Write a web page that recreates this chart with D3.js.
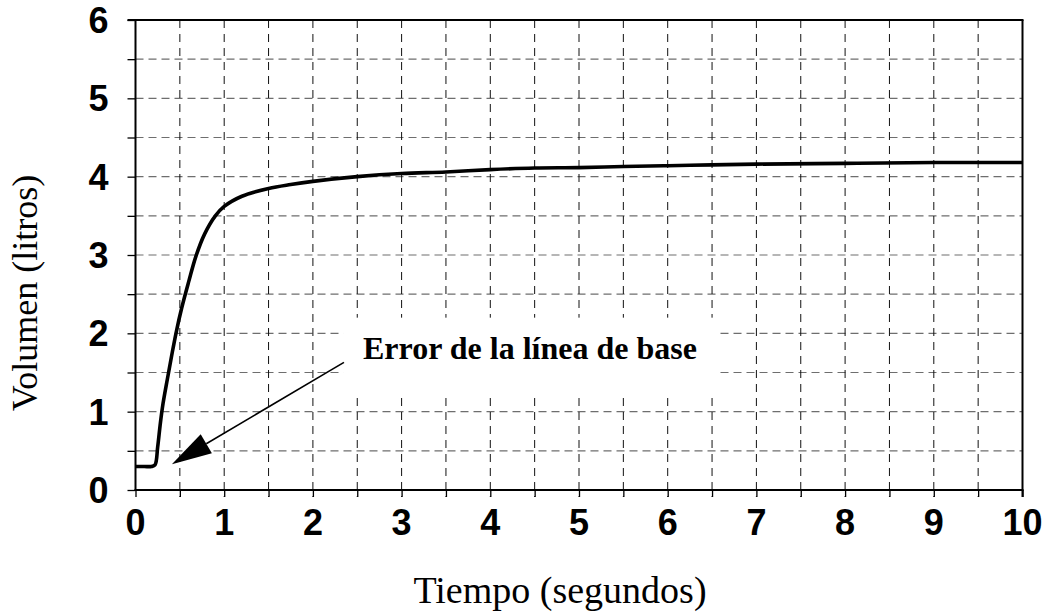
<!DOCTYPE html>
<html>
<head>
<meta charset="utf-8">
<script src="https://cdn.jsdelivr.net/npm/d3@7"></script>
<style>
  html, body { margin: 0; padding: 0; background: #fff; }
  svg { display: block; }
</style>
</head>
<body>
<svg id="chart" width="1044" height="614"></svg>
<script>
// ---- data ----
const timeValues = [0, 0.1, 0.18, 0.22, 0.25, 0.28, 0.31, 0.36, 0.41, 0.46, 0.52, 0.6, 0.68, 0.78, 0.9, 1.0, 1.2, 1.5, 1.75, 2.0, 2.5, 3.0, 3.5, 4.0, 4.5, 5.0, 5.5, 6.0, 6.5, 7.0, 8.0, 9.0, 10.0];
const volumeValues = [0.30, 0.30, 0.30, 0.32, 0.55, 0.85, 1.1, 1.42, 1.73, 2.02, 2.32, 2.66, 2.98, 3.27, 3.5, 3.62, 3.75, 3.85, 3.9, 3.94, 4.0, 4.04, 4.06, 4.09, 4.11, 4.115, 4.13, 4.14, 4.15, 4.16, 4.17, 4.18, 4.18];
const xTickLabels = ["0", "1", "2", "3", "4", "5", "6", "7", "8", "9", "10"];
const yTickLabels = ["0", "1", "2", "3", "4", "5", "6"];
const xTitle = "Tiempo (segundos)";
const yTitle = "Volumen (litros)";
const annotationText = "Error de la línea de base";
const arrowFrom = [2.35, 1.63];
const arrowTo = [0.41, 0.33];
const annotationBox = [2.34, 6.57, 1.19, 2.2]; // x0, x1, y0, y1 in data units
const annotationAnchor = [2.565, 1.67];

// ---- layout ----
const svg = d3.select("#chart");
const pLeft = 135.5, pRight = 1022.5, pTop = 20, pBottom = 490;
const x = d3.scaleLinear().domain([0, 10]).range([pLeft, pRight]);
const y = d3.scaleLinear().domain([0, 6]).range([pBottom, pTop]);
const minorX = d3.range(0, 10.001, 0.5);
const minorY = d3.range(0, 6.001, 0.5);

// gridlines
const grid = svg.append("g");
grid.selectAll("line.h").data(minorY.filter(v => v > 0 && v < 6)).enter().append("line")
  .attr("x1", pLeft).attr("x2", pRight)
  .attr("y1", d => y(d)).attr("y2", d => y(d))
  .attr("stroke", "#6e6e6e").attr("stroke-width", 1.2)
  .attr("stroke-dasharray", "8,5");
grid.selectAll("line.v").data(minorX.filter(v => v > 0 && v < 10)).enter().append("line")
  .attr("x1", d => x(d)).attr("x2", d => x(d))
  .attr("y1", pTop).attr("y2", pBottom + 7)
  .attr("stroke", "#111").attr("stroke-width", 1)
  .attr("stroke-dasharray", "8,6");

// annotation white box (covers gridlines)
svg.append("rect")
  .attr("x", x(annotationBox[0])).attr("y", y(annotationBox[3]))
  .attr("width", x(annotationBox[1]) - x(annotationBox[0]))
  .attr("height", y(annotationBox[2]) - y(annotationBox[3]))
  .attr("fill", "#fff");

// axes
const yAxis = d3.axisLeft(y).tickValues(minorY).tickSize(8).tickFormat("");
const xAxis = d3.axisBottom(x).tickValues(minorX).tickSize(7).tickFormat("");
const ga = svg.append("g").attr("transform", `translate(${pLeft},0)`).call(yAxis);
const gb = svg.append("g").attr("transform", `translate(0,${pBottom})`).call(xAxis);
[ga, gb].forEach(g => {
  g.select(".domain").remove();
  g.selectAll(".tick line").attr("stroke", "#000").attr("stroke-width", 1.3);
});
// frame
svg.append("line").attr("x1", pLeft).attr("x2", pLeft).attr("y1", pTop).attr("y2", pBottom + 1)
  .attr("stroke", "#000").attr("stroke-width", 2);
svg.append("line").attr("x1", pLeft - 1).attr("x2", pRight + 1).attr("y1", pBottom).attr("y2", pBottom)
  .attr("stroke", "#000").attr("stroke-width", 2);
svg.append("line").attr("x1", pLeft - 8).attr("x2", pRight + 1).attr("y1", pTop).attr("y2", pTop)
  .attr("stroke", "#000").attr("stroke-width", 2);
svg.append("line").attr("x1", pRight).attr("x2", pRight).attr("y1", pTop).attr("y2", pBottom + 7)
  .attr("stroke", "#000").attr("stroke-width", 2);

// tick labels
svg.append("g").selectAll("text").data(yTickLabels).enter().append("text")
  .attr("x", pLeft - 27).attr("y", d => y(+d))
  .attr("dy", "0.36em")
  .attr("text-anchor", "end")
  .attr("font-family", "Liberation Sans, Arial, sans-serif")
  .attr("font-weight", "bold").attr("font-size", 36)
  .text(d => d);
svg.append("g").selectAll("text").data(xTickLabels).enter().append("text")
  .attr("x", d => x(+d)).attr("y", pBottom + 45)
  .attr("text-anchor", "middle")
  .attr("font-family", "Liberation Sans, Arial, sans-serif")
  .attr("font-weight", "bold").attr("font-size", 36)
  .text(d => d);

// axis titles
svg.append("text")
  .attr("x", 560).attr("y", 603)
  .attr("text-anchor", "middle")
  .attr("font-family", "Liberation Serif, Times New Roman, serif")
  .attr("font-size", 38)
  .text(xTitle);
svg.append("text")
  .attr("transform", "translate(37,293) rotate(-90)")
  .attr("text-anchor", "middle")
  .attr("font-family", "Liberation Serif, Times New Roman, serif")
  .attr("font-size", 36)
  .text(yTitle);

// curve
const pts = timeValues.map((t, i) => [t, volumeValues[i]]);
svg.append("path")
  .datum(pts)
  .attr("fill", "none").attr("stroke", "#000").attr("stroke-width", 3.6)
  .attr("stroke-linejoin", "round")
  .attr("d", d3.line().x(d => x(d[0])).y(d => y(d[1])).curve(d3.curveCatmullRom.alpha(0.5)));

// annotation text
svg.append("text")
  .attr("x", x(annotationAnchor[0])).attr("y", y(annotationAnchor[1]))
  .attr("font-family", "Liberation Serif, Times New Roman, serif")
  .attr("font-weight", "bold").attr("font-size", 32)
  .text(annotationText);

// arrow
const ax0 = x(arrowFrom[0]), ay0 = y(arrowFrom[1]);
const ax1 = x(arrowTo[0]), ay1 = y(arrowTo[1]);
const ang = Math.atan2(ay1 - ay0, ax1 - ax0);
const headLen = 40, headHalf = 11;
const bx = ax1 - headLen * Math.cos(ang), by = ay1 - headLen * Math.sin(ang);
svg.append("line")
  .attr("x1", ax0).attr("y1", ay0).attr("x2", bx).attr("y2", by)
  .attr("stroke", "#000").attr("stroke-width", 1.6);
svg.append("path")
  .attr("d", d3.line()([
    [ax1, ay1],
    [bx + headHalf * Math.sin(ang), by - headHalf * Math.cos(ang)],
    [bx - headHalf * Math.sin(ang), by + headHalf * Math.cos(ang)]
  ]) + "Z")
  .attr("fill", "#000");
</script>
</body>
</html>
